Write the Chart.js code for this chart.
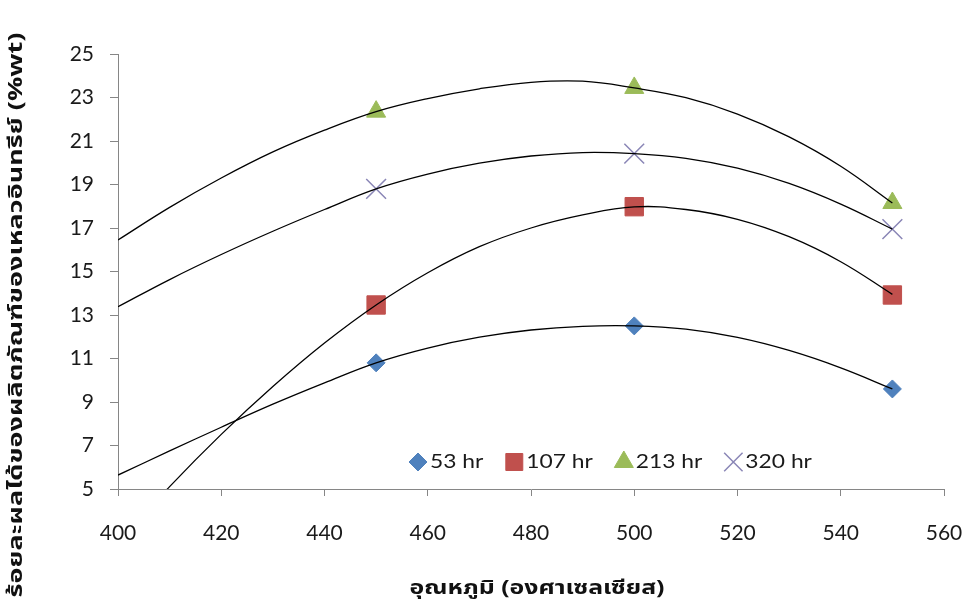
<!DOCTYPE html>
<html>
<head>
<meta charset="utf-8">
<script src="https://cdn.jsdelivr.net/npm/chart.js@4.4.1/dist/chart.umd.min.js"></script>
<style>
  body { margin: 0; background: #fff; }
  canvas { display: block; }
</style>
</head>
<body>
<canvas id="chart-yield" width="973" height="605"></canvas>
<script>
// จุดข้อมูล (อุณหภูมิ, ร้อยละผลได้)
const temps = [450, 500, 550]
const seriesNames = ['53 hr', '107 hr', '213 hr', '320 hr']
const hr53 = [10.8, 12.5, 9.6]
const hr107 = [13.46, 17.98, 13.92]
const hr213 = [22.35, 23.44, 18.15]
const hr320 = [18.8, 20.42, 16.95]

// เส้นแนวโน้ม อ่านค่าจากรูป
const trendX = [400, 410, 420, 430, 440, 450, 460, 470, 480, 490, 500, 510, 520, 530, 540, 550]
const trend53 = [5.64, 6.75, 7.84, 8.9, 9.88, 10.8, 11.48, 11.98, 12.31, 12.48, 12.5, 12.35, 11.97, 11.37, 10.57, 9.6]
const trend107 = [2.51, 5.11, 7.51, 9.71, 11.71, 13.46, 14.94, 16.14, 17.0, 17.6, 17.97, 17.85, 17.4, 16.6, 15.45, 13.95]
const trend213 = [16.45, 17.95, 19.3, 20.5, 21.5, 22.35, 22.95, 23.4, 23.7, 23.75, 23.44, 22.99, 22.24, 21.19, 19.84, 18.15]
const trend320 = [13.38, 14.63, 15.78, 16.85, 17.85, 18.8, 19.48, 19.98, 20.31, 20.47, 20.42, 20.2, 19.75, 19.05, 18.1, 16.95]

const yTicks = [5, 7, 9, 11, 13, 15, 17, 19, 21, 23, 25]

const yTitle = 'ร้อยละผลได้ของผลิตภัณฑ์ของเหลวอินทรีย์ (%wt)'
const xTitle = 'อุณหภูมิ (องศาเซลเซียส)'

const thaiFont = "'Noto Sans Thai', 'Noto Serif Thai', 'Garuda', 'Loma', 'DejaVu Sans', sans-serif"
const axisGray = '#868686'
const textColor = '#1a1a1a'


function toPoints(xs, ys) {
    return xs.map((x, i) => ({ x: x, y: ys[i] }))
}

function trendSet(ys) {
    return {
        data: toPoints(trendX, ys),
        showLine: true,
        borderColor: '#000',
        borderWidth: 1.3,
        pointRadius: 0,
        tension: 0.4,
        order: 0
    }
}

const markers = [
    { data: hr53, pointStyle: 'rectRot', radius: 9, legendRadius: 9, color: '#4F81BD', border: '#4F81BD', borderWidth: 1 },
    { data: hr107, pointStyle: 'rect', radius: 13, legendRadius: 12, color: '#C0504D', border: '#C0504D', borderWidth: 1 },
    { data: hr213, pointStyle: 'triangle', radius: 11, legendRadius: 11, color: '#9BBB59', border: '#9BBB59', borderWidth: 1 },
    { data: hr320, pointStyle: 'crossRot', radius: 14, legendRadius: 13, color: 'rgba(0,0,0,0)', border: '#8A86B6', borderWidth: 1.5 }
]


// ข้อความยืดตามแนวนอน (ต้นฉบับถูกยืด)
function stretchedText(ctx, text, cx, cy, targetWidth) {
    const w = ctx.measureText(text).width
    ctx.save()
    ctx.translate(cx, cy)
    ctx.scale(targetWidth / w, 1)
    ctx.textAlign = 'center'
    ctx.fillText(text, 0, 0)
    ctx.restore()
}

// คำอธิบายสัญลักษณ์ภายในกราฟ
const insideLegend = {
    id: 'insideLegend',
    afterDraw(chart) {
        const ctx = chart.ctx
        ctx.save()
        ctx.font = '19px Lato'
        ctx.textBaseline = 'middle'
        let x = 408
        const y = 462
        markers.forEach((m, i) => {
            ctx.fillStyle = m.color
            ctx.strokeStyle = m.border
            ctx.lineWidth = m.borderWidth
            Chart.helpers.drawPoint(ctx, { pointStyle: m.pointStyle, radius: m.legendRadius, borderWidth: m.borderWidth, rotation: 0 }, x + 10, y)
            ctx.fillStyle = textColor
            const w = ctx.measureText(seriesNames[i]).width * 1.2
            stretchedText(ctx, seriesNames[i], x + 22 + w / 2, y, w)
            x += 22 + w + 21
        })
        ctx.restore()
    }
}

// ชื่อแกน
const axisTitles = {
    id: 'axisTitles',
    afterDraw(chart) {
        const ctx = chart.ctx
        ctx.save()
        ctx.font = 'bold 19px ' + thaiFont
        ctx.fillStyle = '#111'
        ctx.textBaseline = 'middle'
        stretchedText(ctx, xTitle, 537, 590, 255)

        ctx.translate(18, 315)
        ctx.rotate(-Math.PI / 2)
        stretchedText(ctx, yTitle, 0, 0, 565)
        ctx.restore()
    }
}


const datasets = [trendSet(trend53), trendSet(trend107), trendSet(trend213), trendSet(trend320)]

markers.forEach((m, i) => {
    datasets.push({
        label: seriesNames[i],
        data: toPoints(temps, m.data),
        pointStyle: m.pointStyle,
        pointRadius: m.radius,
        pointHoverRadius: m.radius,
        backgroundColor: m.color,
        borderColor: m.border,
        pointBorderWidth: m.borderWidth,
        showLine: false,
        order: 1
    })
})


new Chart('chart-yield', {
    type: 'scatter',
    data: { datasets },
    plugins: [insideLegend, axisTitles],
    options: {
        responsive: false,
        animation: false,
        devicePixelRatio: 1,
        layout: { padding: { left: 0, top: 54, right: 29, bottom: 0 } },
        plugins: {
            legend: { display: false },
            tooltip: { enabled: false }
        },
        scales: {
            x: {
                type: 'linear',
                min: 400,
                max: 560,
                afterFit: scale => {
                    scale.height = 116
                    scale.paddingLeft = 0
                    scale.paddingRight = 0
                },
                ticks: { stepSize: 20, color: textColor, padding: 25, font: { family: 'Lato', size: 21 } },
                grid: { drawOnChartArea: false, color: axisGray, tickLength: 7 },
                border: { color: axisGray, width: 1 }
            },
            y: {
                min: 5,
                max: 25,
                afterFit: scale => {
                    scale.width = 118
                    scale.paddingTop = 0
                    scale.paddingBottom = 0
                },
                afterBuildTicks: scale => { scale.ticks = yTicks.map(v => ({ value: v })) },
                ticks: { color: textColor, padding: 16, font: { family: 'Lato', size: 21 } },
                grid: { drawOnChartArea: false, color: axisGray, tickLength: 8 },
                border: { color: axisGray, width: 1 }
            }
        }
    }
})
</script>
</body>
</html>
